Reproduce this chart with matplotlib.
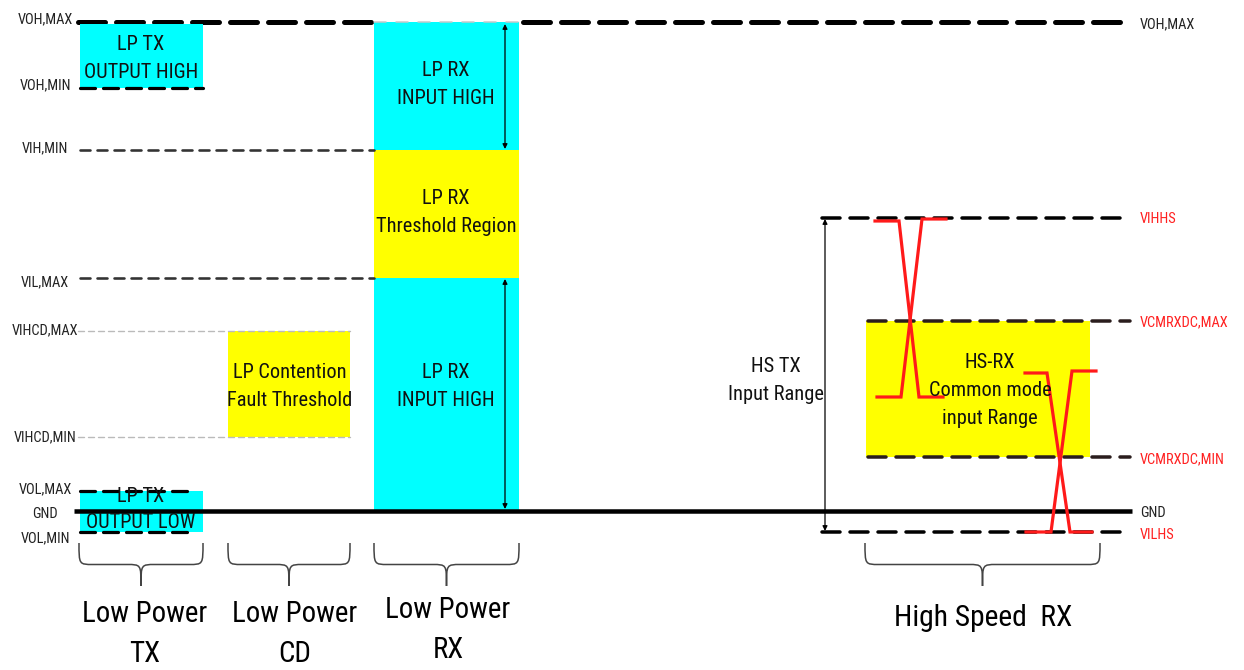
import matplotlib
matplotlib.use("Agg")
import os
import matplotlib.pyplot as plt
from matplotlib import font_manager
from matplotlib.font_manager import FontProperties
from matplotlib.path import Path
from matplotlib.patches import PathPatch, Rectangle

# ---------------- fonts ----------------
_files = [f.fname for f in font_manager.fontManager.ttflist]
NARROW = None
for key in ["LiberationSansNarrow-Regular", "RobotoCondensed-Regular", "Roboto_Condensed-Regular",
            "OpenSans_Condensed-Regular", "DejaVuSansCondensed.ttf", "NotoSans-Condensed",
            "NotoSansDisplay-Condensed"]:
    hits = [p for p in _files if key in os.path.basename(p)]
    if hits:
        NARROW = hits[0]
        break
plt.rcParams['font.family'] = ['Liberation Sans', 'DejaVu Sans']
plt.rcParams['lines.scale_dashes'] = False


def fp(size):
    if NARROW:
        return FontProperties(fname=NARROW, size=size)
    return FontProperties(family='Liberation Sans', size=size * 0.92)


# ---------------- data (diagram units: pixel-like, y grows downward) ----------------
Y_VOH_MAX = 22
Y_VOH_MIN = 88
Y_VIH_MIN = 150
Y_VIL_MAX = 278
Y_VIHCD_MAX = 331
Y_VIHCD_MIN = 437
Y_VOL_MAX = 491
Y_GND = 511
Y_VOL_MIN = 532
Y_VIHHS = 218
Y_VCM_MAX = 321
Y_VCM_MIN = 457
Y_VILHS = 532

TX_SPAN = (80, 203)
CD_SPAN = (228, 350)
RX_SPAN = (374, 519)
HS_BOX_SPAN = (866, 1090)
HS_BRACE_SPAN = (865, 1100)

left_labels = ["VOH,MAX", "VOH,MIN", "VIH,MIN", "VIL,MAX", "VIHCD,MAX", "VIHCD,MIN",
               "VOL,MAX", "GND", "VOL,MIN"]
left_label_y = [Y_VOH_MAX - 3, Y_VOH_MIN - 3, Y_VIH_MIN - 2, Y_VIL_MAX + 4, Y_VIHCD_MAX - 1,
                Y_VIHCD_MIN, Y_VOL_MAX - 2, Y_GND + 3, Y_VOL_MIN + 6]
right_labels = ["VOH,MAX", "VIHHS", "VCMRXDC,MAX", "VCMRXDC,MIN", "GND", "VILHS"]
right_label_y = [Y_VOH_MAX + 2, Y_VIHHS + 1, Y_VCM_MAX + 1, Y_VCM_MIN + 2, Y_GND + 2, Y_VILHS + 3]
right_label_colors = ["#222222", "#ff2020", "#ff2020", "#ff2020", "#222222", "#ff2020"]

bottom_labels = ["Low Power\nTX", "Low Power\nCD", "Low Power\nRX", "High Speed  RX"]

wave_hi_fall_x = [875, 899, 919, 943]
wave_hi_fall_y = [221, 221, 397, 397]
wave_hi_rise_x = [877, 901, 922, 946]
wave_hi_rise_y = [397, 397, 219, 219]
wave_lo_fall_x = [1025, 1047, 1070, 1092]
wave_lo_fall_y = [373, 373, 532, 532]
wave_lo_rise_x = [1026, 1051, 1072, 1096]
wave_lo_rise_y = [532, 532, 371, 371]

CYAN = "#00ffff"
YELLOW = "#ffff00"

# ---------------- figure ----------------
fig = plt.figure(figsize=(12.44, 6.70), dpi=100)
ax = fig.add_axes([0, 0, 1, 1])
ax.set_xlim(0, 1244)
ax.set_ylim(670, 0)
ax.axis('off')

PX = 0.72  # px -> pt


def hline(y, x0, x1, lw, dash=None, gap=None, color='black', z=3):
    if dash is None:
        ax.plot([x0, x1], [y, y], color=color, lw=lw * PX, solid_capstyle='butt', zorder=z)
    else:
        ax.plot([x0, x1], [y, y], color=color, lw=lw * PX, zorder=z,
                dash_capstyle='round', linestyle=(0, (dash * PX, gap * PX)))


def box(x0, x1, y0, y1, color):
    ax.add_patch(Rectangle((x0, y0), x1 - x0, y1 - y0, facecolor=color, edgecolor='none', zorder=2))


def brace(x0, x1, ytop, depth=43, r=14, color='#444444'):
    xm = (x0 + x1) / 2
    ym = ytop + depth * 0.5
    yt = ytop + depth
    verts = [(x0, ytop), (x0, ym), (x0, ym), (x0 + r, ym),
             (xm - r, ym),
             (xm, ym), (xm, ym), (xm, yt),
             (xm, ym), (xm, ym), (xm + r, ym),
             (x1 - r, ym),
             (x1, ym), (x1, ym), (x1, ytop)]
    codes = [Path.MOVETO, Path.CURVE4, Path.CURVE4, Path.CURVE4,
             Path.LINETO,
             Path.CURVE4, Path.CURVE4, Path.CURVE4,
             Path.CURVE4, Path.CURVE4, Path.CURVE4,
             Path.LINETO,
             Path.CURVE4, Path.CURVE4, Path.CURVE4]
    ax.add_patch(PathPatch(Path(verts, codes), facecolor='none', edgecolor=color, lw=1.1, zorder=3))


def darrow(x, y0, y1):
    ax.annotate('', xy=(x, y0), xytext=(x, y1),
                arrowprops=dict(arrowstyle='<|-|>', color='black', lw=0.9,
                                mutation_scale=7, shrinkA=0, shrinkB=0), zorder=4)


# ---------------- boxes ----------------
box(*TX_SPAN, Y_VOH_MAX + 2, Y_VOH_MIN, CYAN)
box(*TX_SPAN, Y_VOL_MAX, Y_VOL_MIN, CYAN)
box(*CD_SPAN, Y_VIHCD_MAX, Y_VIHCD_MIN, YELLOW)
box(*RX_SPAN, Y_VOH_MAX, Y_VIH_MIN, CYAN)
box(*RX_SPAN, Y_VIH_MIN, Y_VIL_MAX, YELLOW)
box(*RX_SPAN, Y_VIL_MAX, Y_GND, CYAN)
box(*HS_BOX_SPAN, Y_VCM_MAX, Y_VCM_MIN, YELLOW)

# ---------------- level lines ----------------
hline(Y_VOH_MAX, 78, RX_SPAN[0], 5, 27, 11, z=1.5)
hline(Y_VOH_MAX, RX_SPAN[0], RX_SPAN[1], 1.5, 12, 10, color='#c8c8c8')
hline(Y_VOH_MAX, RX_SPAN[1] + 4, 1130, 5, 27, 11, z=1.5)
hline(Y_VOH_MIN, 80, 203, 3.2, 15, 8)
hline(Y_VIH_MIN, 80, RX_SPAN[0], 2.6, 10, 7, color='#333333')
hline(Y_VIL_MAX, 80, RX_SPAN[0], 2.6, 10, 7, color='#333333')
hline(Y_VIHCD_MAX, 78, 350, 1.4, 6, 4, color='#bbbbbb')
hline(Y_VIHCD_MIN, 78, 350, 1.4, 6, 4, color='#bbbbbb')
hline(Y_VOL_MAX, 80, 190, 3.2, 15, 8)
hline(Y_VOL_MIN, 80, 190, 3.2, 15, 8)
hline(Y_GND, 74, 1132, 4.5)
hline(Y_VIHHS, 822, 1130, 3.5, 18, 10)
hline(Y_VCM_MAX, 868, 1130, 3.5, 18, 10, color='#2a1d1d')
hline(Y_VCM_MIN, 868, 1130, 3.5, 18, 10, color='#2a1d1d')
hline(Y_VILHS, 822, 1130, 3.5, 18, 10)

# ---------------- arrows ----------------
darrow(505, Y_VOH_MAX + 2, Y_VIH_MIN - 1)
darrow(505, Y_VIL_MAX + 1, Y_GND - 2)
darrow(825, Y_VIHHS + 1, Y_VILHS - 1)

# ---------------- red waveforms ----------------
for xs, ys in [(wave_hi_fall_x, wave_hi_fall_y), (wave_hi_rise_x, wave_hi_rise_y),
               (wave_lo_fall_x, wave_lo_fall_y), (wave_lo_rise_x, wave_lo_rise_y)]:
    ax.plot(xs, ys, color='#ff1a1a', lw=2.3, zorder=5, solid_joinstyle='miter')

# ---------------- braces ----------------
brace(79, 203, 543)
brace(*CD_SPAN, 543)
brace(*RX_SPAN, 543)
brace(*HS_BRACE_SPAN, 543)

# ---------------- texts ----------------
LBL = 10.4
for t, y in zip(left_labels, left_label_y):
    ax.text(45, y, t, ha='center', va='center', fontproperties=fp(LBL), color='#222222', zorder=6)
for t, y, c in zip(right_labels, right_label_y, right_label_colors):
    ax.text(1140, y, t, ha='left', va='center', fontproperties=fp(LBL), color=c, zorder=6)

BOX = 14.7


def two(x, y1, y2, a, b, size=BOX):
    ax.text(x, y1, a, ha='center', va='center', fontproperties=fp(size), color='#111111', zorder=6)
    ax.text(x, y2, b, ha='center', va='center', fontproperties=fp(size), color='#111111', zorder=6)


two(141, 44, 72, "LP TX", "OUTPUT HIGH")
two(141, 497, 523, "LP TX", "OUTPUT LOW")
two(446, 70, 98, "LP RX", "INPUT HIGH")
two(446, 198, 226, "LP RX", "Threshold Region")
two(446, 373, 401, "LP RX", "INPUT HIGH")
two(290, 372, 400, "LP Contention", "Fault Threshold")
two(776, 366, 394, "HS TX", "Input Range")
ax.text(990, 362, "HS-RX", ha='center', va='center', fontproperties=fp(BOX), color='#111111', zorder=6)
two(990, 390, 419, "Common mode", "input Range")

BIG = 20.8
bx = [145, 295, 448]
by = [634, 634, 630]
for t, x, y in zip(bottom_labels[:3], bx, by):
    ax.text(x, y, t, ha='center', va='center', fontproperties=fp(BIG), color='black',
            linespacing=1.5, zorder=6)
ax.text(983, 618, bottom_labels[3], ha='center', va='center', fontproperties=fp(21.3),
        color='black', zorder=6)

fig.savefig("out.png", dpi=100, facecolor='white')
